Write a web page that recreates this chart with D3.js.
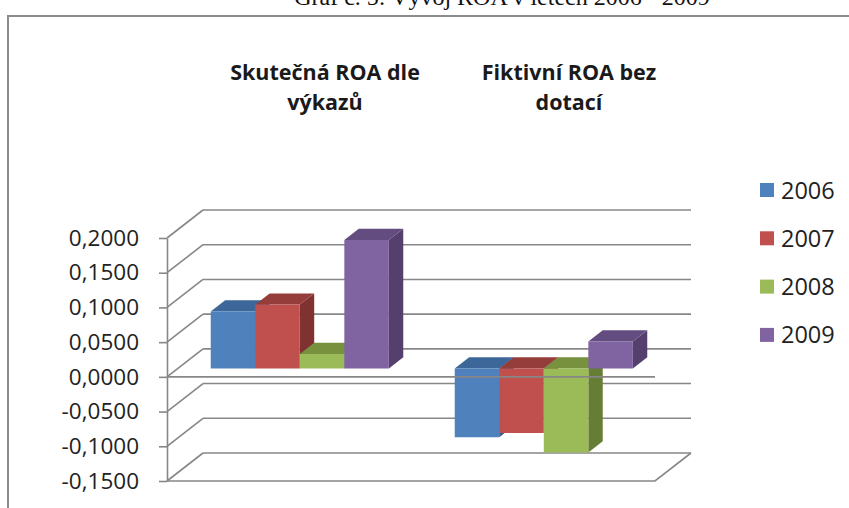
<!DOCTYPE html>
<html>
<head>
<meta charset="utf-8">
<script src="https://cdn.jsdelivr.net/npm/d3@7"></script>
<style>
  body { margin: 0; background: #fff; }
  svg { display: block; }
</style>
</head>
<body>
<svg id="chart" width="849" height="508"></svg>
<script>
// data
var categories = ["Skutečná ROA dle výkazů", "Fiktivní ROA bez dotací"];
var categoryLines = [["Skutečná ROA dle", "výkazů"], ["Fiktivní ROA bez", "dotací"]];
var years = ["2006", "2007", "2008", "2009"];
var roa2006 = [0.082, -0.099];
var roa2007 = [0.092, -0.093];
var roa2008 = [0.021, -0.121];
var roa2009 = [0.185, 0.039];
var yTicks = [-0.15, -0.10, -0.05, 0, 0.05, 0.10, 0.15, 0.20];
var title = "Graf č. 5: Vývoj ROA v letech 2006 - 2009";

var seriesValues = [roa2006, roa2007, roa2008, roa2009];
var frontColors = ["#4f81bd", "#c0504d", "#9bbb59", "#8064a2"];
var topColors   = ["#3d6699", "#943d3b", "#77913f", "#634c80"];
var sideColors  = ["#375a87", "#7f3230", "#667d36", "#553f6c"];

var svg = d3.select("#chart");

var plotLeft = 167, plotRight = 655;     // front plane
var depthDx = 36, depthDy = -28;         // offset of the back wall
var barD0 = 0.3, barD1 = 0.7;            // bar depth, as share of the depth

var y = d3.scaleLinear().domain([-0.15, 0.2]).range([481, 238]);
var x = d3.scaleBand().domain(categories).range([plotLeft, plotRight]);
var xs = d3.scaleBand().domain(years)
   .range([x.bandwidth() * 0.135, x.bandwidth() * 0.865]);

//project a point of the 3d box onto the picture
function P(px, v, d){
   return [px + d * depthDx, y(v) + d * depthDy];
}
function poly(pts){ return pts.map(function(p){ return p.join(","); }).join(" "); }

var gridColor = "#878787";

//frame of the chart area (cut off at right and bottom)
svg.append("rect")
   .attr("x", 8).attr("y", 16)
   .attr("width", 900).attr("height", 600)
   .attr("fill", "none").attr("stroke", "#8c8c8c").attr("stroke-width", 2);

//title, mostly cut off at the top
svg.append("text")
   .attr("x", 502).attr("y", 5)
   .attr("text-anchor", "middle")
   .attr("font-family", "'Liberation Serif', 'Times New Roman', serif")
   .attr("font-size", 24)
   .attr("fill", "#111")
   .text(title);

//back wall gridlines
svg.append("g").selectAll("line")
   .data(yTicks)
   .enter()
   .append("line")
   .attr("x1", function(d){ return P(plotLeft, d, 1)[0]; })
   .attr("x2", function(d){ return P(plotRight, d, 1)[0]; })
   .attr("y1", function(d){ return P(plotLeft, d, 1)[1]; })
   .attr("y2", function(d){ return P(plotRight, d, 1)[1]; })
   .attr("stroke", gridColor).attr("stroke-width", 1.6);

//side wall gridlines
svg.append("g").selectAll("line")
   .data(yTicks)
   .enter()
   .append("line")
   .attr("x1", function(d){ return P(plotLeft, d, 0)[0]; })
   .attr("x2", function(d){ return P(plotLeft, d, 1)[0]; })
   .attr("y1", function(d){ return P(plotLeft, d, 0)[1]; })
   .attr("y2", function(d){ return P(plotLeft, d, 1)[1]; })
   .attr("stroke", gridColor).attr("stroke-width", 1.6);

//floor at the lowest value
var yMin = yTicks[0];
svg.append("polyline")
   .attr("points", poly([P(plotLeft, yMin, 0), P(plotRight, yMin, 0), P(plotRight, yMin, 1)]))
   .attr("fill", "none").attr("stroke", gridColor).attr("stroke-width", 1.6);

//value axis
var fmt = d3.formatLocale({decimal: ",", thousands: " ", grouping: [3], currency: ["", ""], minus: "-"}).format(".4f");
var yAxis = svg.append("g")
   .attr("transform", "translate(" + plotLeft + ",0)")
   .call(d3.axisLeft(y).tickValues(yTicks).tickFormat(fmt).tickSize(8).tickSizeOuter(0).tickPadding(20));
yAxis.select(".domain").attr("stroke", gridColor).attr("stroke-width", 1.6);
yAxis.selectAll(".tick line").attr("stroke", gridColor).attr("stroke-width", 1.6);
yAxis.selectAll(".tick text")
   .attr("font-family", "'Open Sans', sans-serif")
   .attr("font-size", 22.5)
   .attr("fill", "#222");

//bars, drawn left to right so each front face hides the neighbour's side
var bars = svg.append("g");
categories.forEach(function(cat, ci){
   years.forEach(function(yr, si){
      var v = seriesValues[si][ci];
      var x0 = x(cat) + xs(yr), x1 = x0 + xs.bandwidth();
      var topV = Math.max(v, 0);
      bars.append("polygon")
         .attr("points", poly([P(x1, 0, barD0), P(x1, v, barD0), P(x1, v, barD1), P(x1, 0, barD1)]))
         .attr("fill", sideColors[si]);
      bars.append("polygon")
         .attr("points", poly([P(x0, topV, barD0), P(x1, topV, barD0), P(x1, topV, barD1), P(x0, topV, barD1)]))
         .attr("fill", topColors[si]);
      bars.append("polygon")
         .attr("points", poly([P(x0, 0, barD0), P(x1, 0, barD0), P(x1, v, barD0), P(x0, v, barD0)]))
         .attr("fill", frontColors[si]);
   });
});

//category axis at zero, front edge
svg.append("line")
   .attr("x1", P(plotLeft, 0, 0)[0]).attr("x2", P(plotRight, 0, 0)[0])
   .attr("y1", P(plotLeft, 0, 0)[1]).attr("y2", P(plotRight, 0, 0)[1])
   .attr("stroke", gridColor).attr("stroke-width", 1.6);

//category labels, sitting high above the back wall
var catLabels = svg.append("g").selectAll("text")
   .data(categories)
   .enter()
   .append("text")
   .attr("text-anchor", "middle")
   .attr("font-family", "'Open Sans', sans-serif")
   .attr("font-weight", 700)
   .attr("font-size", 21.5)
   .attr("fill", "#1a1a1a");
catLabels.each(function(d, i){
   var cx = x(d) + x.bandwidth() / 2 + depthDx;
   d3.select(this).selectAll("tspan")
      .data(categoryLines[i])
      .enter()
      .append("tspan")
      .attr("x", cx)
      .attr("y", function(t, j){ return 80 + j * 30; })
      .text(function(t){ return t; });
});

//legend
var legend = svg.append("g").selectAll("g")
   .data(years)
   .enter()
   .append("g")
   .attr("transform", function(d, i){ return "translate(760," + (190 + i * 48.3) + ")"; });
legend.append("rect")
   .attr("x", 0).attr("y", -7)
   .attr("width", 14).attr("height", 14)
   .attr("fill", function(d, i){ return frontColors[i]; });
legend.append("text")
   .attr("x", 21).attr("y", 8.5)
   .attr("font-family", "'Open Sans', sans-serif")
   .attr("font-size", 23.5)
   .attr("fill", "#222")
   .text(function(d){ return d; });
</script>
</body>
</html>
